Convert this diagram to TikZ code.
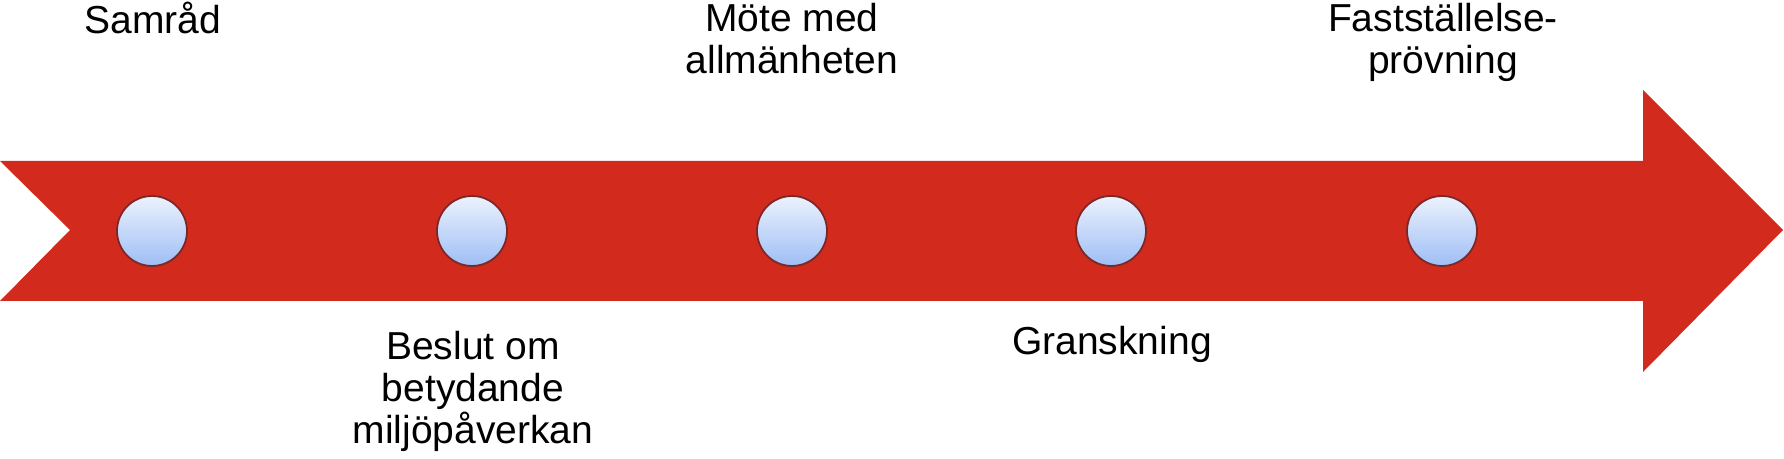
\documentclass[tikz,border=0pt]{standalone}
\usepackage{fontspec}
\setmainfont{Liberation Sans}
\definecolor{arrowred}{RGB}{211,42,30}
\definecolor{dotedge}{RGB}{125,40,40}
\definecolor{dottop}{RGB}{236,242,253}
\definecolor{dotbot}{RGB}{158,190,245}
\tikzset{
  dot/.style={circle, minimum size=35pt, inner sep=0pt, draw=dotedge, line width=0.9pt,
    top color=dottop, bottom color=dotbot},
  lbl/.style={font=\fontsize{19.5}{21.2}\selectfont, align=center, inner sep=0pt, anchor=base, text=black}
}
\begin{document}
\begin{tikzpicture}[x=0.5pt,y=-0.5pt]
\useasboundingbox (0,0) rectangle (1784,459);
\fill[arrowred] (0,161) -- (1643,161) -- (1643,90) -- (1783,230) -- (1643,372) -- (1643,301) -- (0,301) -- (70,230) -- cycle;
\node[dot] (c1) at (152,231) {};
\node[dot] (c2) at (472,231) {};
\node[dot] (c3) at (792,231) {};
\node[dot] (c4) at (1111,231) {};
\node[dot] (c5) at (1442,231) {};
\node[lbl] (l1) at (153,34) {Samråd};
\node[lbl] (l2) at (473,444) {Beslut om\\betydande\\miljöpåverkan};
\node[lbl] (l3) at (792,74) {Möte med\\allmänheten};
\node[lbl] (l4) at (1112,355) {Granskning};
\node[lbl] (l5) at (1443,74) {Fastställelse-\\prövning};
\end{tikzpicture}
\end{document}
